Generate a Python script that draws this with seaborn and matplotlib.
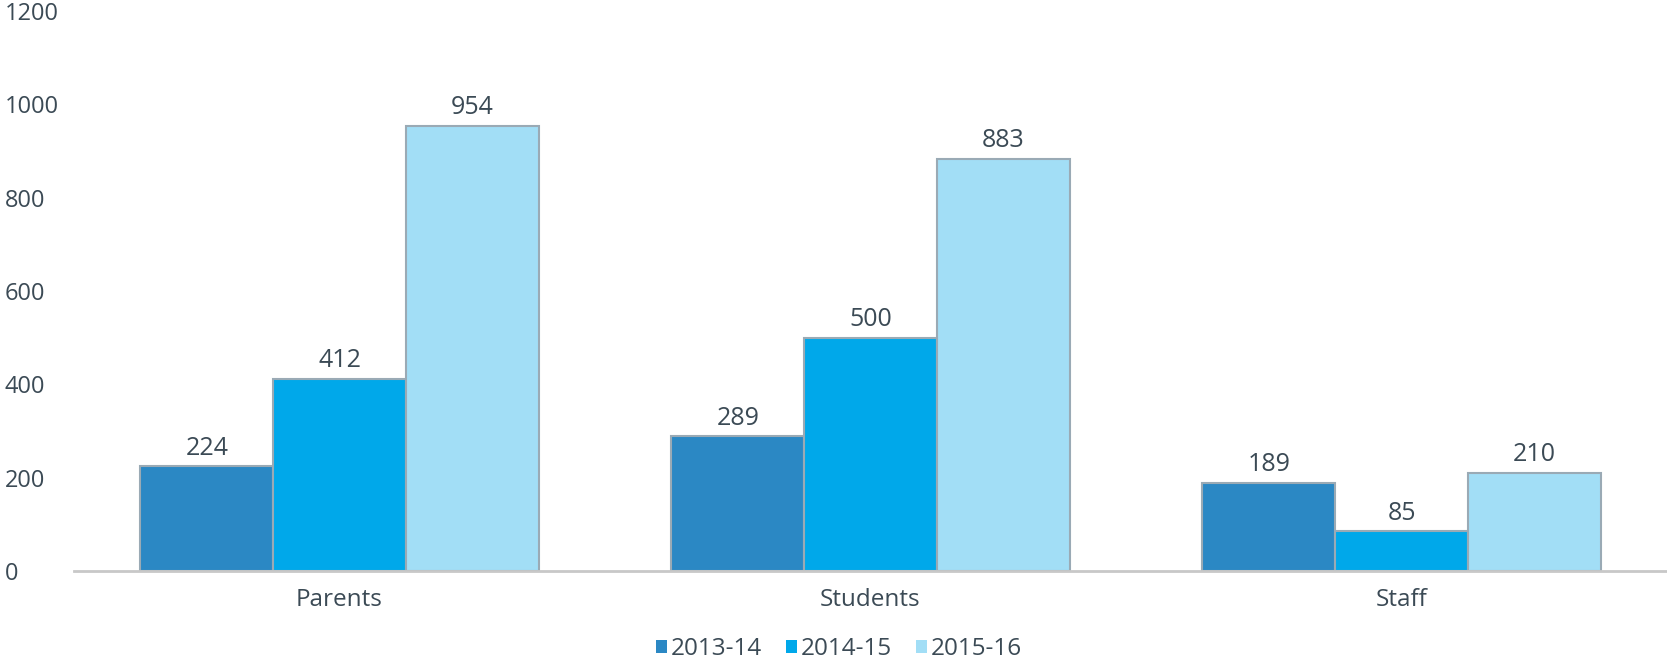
import pandas as pd
import matplotlib
matplotlib.use('Agg')
import matplotlib.pyplot as plt
import seaborn as sns

# DATA
groups = ['Parents', 'Students', 'Staff']
years = ['2013-14', '2014-15', '2015-16']
vals_2013 = [224, 289, 189]
vals_2014 = [412, 500, 85]
vals_2015 = [954, 883, 210]
colors = ['#2b88c4', '#00a8ea', '#a2def6']

df = pd.DataFrame({
    'group': groups * 3,
    'year': [years[0]] * 3 + [years[1]] * 3 + [years[2]] * 3,
    'value': vals_2013 + vals_2014 + vals_2015,
})

sns.set_style('white')
plt.rcParams['font.family'] = ['Open Sans', 'DejaVu Sans']
txt = '#3b4a55'

fig = plt.figure(figsize=(16.67, 6.6), dpi=100)
ax = fig.add_axes([0.0444, 0.1348, 0.9556, 0.8485])

sns.barplot(data=df, x='group', y='value', hue='year', palette=colors,
            width=0.75, edgecolor='#9aaab5', linewidth=1.5, ax=ax, saturation=1)

for c in ax.containers:
    ax.bar_label(c, fontsize=18, color=txt, padding=4)

ax.set_xlim(-0.5, 2.5)
ax.set_ylim(0, 1200)
ax.set_yticks(range(0, 1201, 200))
ax.set_xlabel('')
ax.set_ylabel('')
ax.tick_params(axis='both', length=0, labelsize=17, colors=txt)
ax.tick_params(axis='x', labelsize=17.5)
for lab in ax.get_yticklabels():
    lab.set_horizontalalignment('left')
ax.yaxis.set_tick_params(pad=50)
ax.tick_params(axis='x', pad=12)
for s in ['top', 'right', 'left']:
    ax.spines[s].set_visible(False)
ax.spines['bottom'].set_color('#c8c8c8')
ax.spines['bottom'].set_linewidth(2)

leg = ax.legend(loc='upper center', bbox_to_anchor=(0.48, -0.088), ncol=3, frameon=False,
                fontsize=17.5, handlelength=0.45, handleheight=0.45, handletextpad=0.15,
                columnspacing=1.0, labelcolor=txt, borderpad=0.2)
for h in leg.legend_handles:
    h.set_edgecolor('none')

fig.savefig('out.png', dpi=100)
